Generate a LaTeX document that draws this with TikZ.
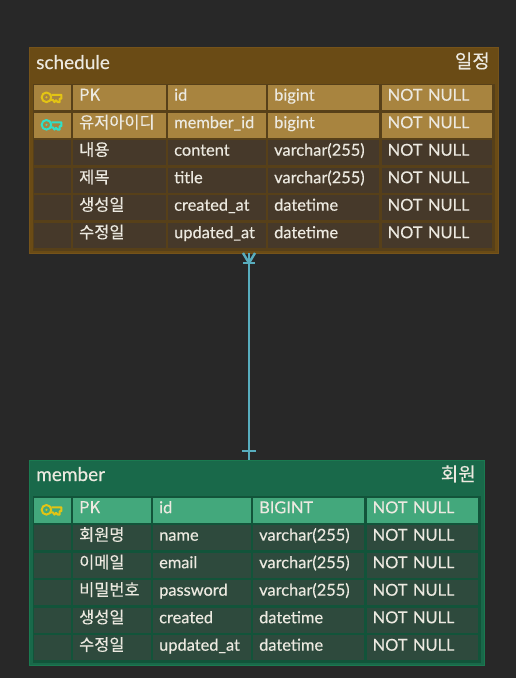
\documentclass[tikz,border=0pt]{standalone}
\usepackage{fontspec}
\setmainfont{Lato}[FakeBold=0.35,WordSpace=0.3]
\newfontfamily\krfont{Noto Sans CJK KR}[FakeBold=0.3]
\definecolor{bgc}{HTML}{282828}
\definecolor{txt}{HTML}{ECE9E0}
\definecolor{schead}{HTML}{6A4B15}
\definecolor{scedge}{HTML}{75531A}
\definecolor{scin}{HTML}{574019}
\definecolor{schl}{HTML}{A8843F}
\definecolor{scrow}{HTML}{46392A}
\definecolor{mehead}{HTML}{19694A}
\definecolor{meedge}{HTML}{1A7A50}
\definecolor{mein}{HTML}{12543A}
\definecolor{mehl}{HTML}{43A87C}
\definecolor{merow}{HTML}{2E4A3D}
\definecolor{link}{HTML}{58ADBE}
\definecolor{keyy}{HTML}{E3C414}
\definecolor{keyc}{HTML}{2FE0C8}
\tikzset{
  tablebox/.style={rectangle,inner sep=0pt,anchor=north west,line width=1pt},
  cellbox/.style={rectangle,inner xsep=6pt,inner ysep=0pt,anchor=north west,
    minimum height=25pt,text height=12pt,text depth=6pt,align=left,
    text=txt,font=\fontsize{16.4}{16.4}\selectfont},
  titletext/.style={inner sep=0pt,text=txt,font=\fontsize{19}{19}\selectfont},
  connector/.style={draw=link,line width=2.4pt},
  keyshape/.style={line width=2pt,line join=round},
}
% \cellat{name}{x0}{x1}{top}{fill}{text}
\newcommand{\cellat}[6]{%
  \pgfmathsetmacro{\cw}{#3-#2}%
  \pgfmathsetmacro{\ctw}{\cw-12}%
  \node[cellbox,fill=#5,minimum width=\cw pt,text width=\ctw pt] (#1) at (#2,#4) {#6};}
% \keyat{name of cell}{colour}
\newcommand{\keyat}[2]{%
  \begin{scope}[shift={(#1.center)},keyshape,draw=#2]
    \draw (-6,-0.4) circle (4.8 and 4.8);
    \fill[#2] (-6,-0.4) circle (1.2);
    \draw (-1.2,-2.8) -- (9,-2.8) -- (9,1) -- (7.2,1) -- (7.2,4.4) -- (5.2,4.4) -- (3.6,2.6) -- (2,4.4) -- (0.4,2.2) -- (-1.4,2.2);
  \end{scope}}
\begin{document}
\begin{tikzpicture}[x=1pt,y=-1pt]
\useasboundingbox[fill=bgc] (0,0) rectangle (516,678);
% schedule table
\node[tablebox,fill=schead,draw=scedge,minimum width=469pt,minimum height=206pt] (schedule) at (29,47) {};
\node[tablebox,fill=scin,minimum width=462pt,minimum height=167pt] (schedulebody) at (32,83) {};
\node[titletext,anchor=base west] (schedulename) at (36,69) {schedule};
\node[titletext,anchor=base east] (schedulelabel) at (490,68) {\krfont 일정};
\foreach \rid/\top/\fillc/\ca/\cb/\cc in {
  a/85/schl/PK/id/bigint,
  b/112.5/schl/유저아이디/member\_id/bigint,
  c/140/scrow/내용/content/varchar(255),
  d/167.5/scrow/제목/title/varchar(255),
  e/195/scrow/생성일/created\_at/datetime,
  f/222.5/scrow/수정일/updated\_at/datetime}{
  \cellat{s\rid0}{34}{70.5}{\top}{\fillc}{}
  \cellat{s\rid1}{73}{165.5}{\top}{\fillc}{\krfont \ca}
  \cellat{s\rid2}{168}{265.5}{\top}{\fillc}{\cb}
  \cellat{s\rid3}{268}{379}{\top}{\fillc}{\cc}
  \cellat{s\rid4}{381.5}{492}{\top}{\fillc}{NOT NULL}
}
\keyat{sa0}{keyy}
\keyat{sb0}{keyc}
% member table
\node[tablebox,fill=mehead,draw=meedge,minimum width=455pt,minimum height=205pt] (member) at (29,460) {};
\node[tablebox,fill=mein,minimum width=448pt,minimum height=167pt] (memberbody) at (32,495.5) {};
\node[titletext,anchor=base west] (membername) at (36,481) {member};
\node[titletext,anchor=base east] (memberlabel) at (476,481) {\krfont 회원};
\foreach \rid/\top/\fillc/\ca/\cb/\cc in {
  a/497.5/mehl/PK/id/BIGINT,
  b/525/merow/회원명/name/varchar(255),
  c/552.5/merow/이메일/email/varchar(255),
  d/580/merow/비밀번호/password/varchar(255),
  e/607.5/merow/생성일/created/datetime,
  f/635/merow/수정일/updated\_at/datetime}{
  \cellat{m\rid0}{34}{70.5}{\top}{\fillc}{}
  \cellat{m\rid1}{73}{150.5}{\top}{\fillc}{\krfont \ca}
  \cellat{m\rid2}{153}{250.5}{\top}{\fillc}{\cb}
  \cellat{m\rid3}{253}{364}{\top}{\fillc}{\cc}
  \cellat{m\rid4}{366.5}{477.5}{\top}{\fillc}{NOT NULL}
}
\keyat{ma0}{keyy}
% connector
\coordinate (linktop) at (249,253);
\coordinate (linkbot) at (249,460);
\draw[connector] (linktop) -- (linkbot);
% many end (crow's foot) at schedule
\draw[connector] (linktop) ++(-6,0) -- ++(6,10) -- ++(6,-10);
\draw[connector] (linktop) ++(-6,10) -- ++(12,0);
% one end at member
\draw[connector] (linkbot) ++(-7,-9) -- ++(14,0);
\end{tikzpicture}
\end{document}
